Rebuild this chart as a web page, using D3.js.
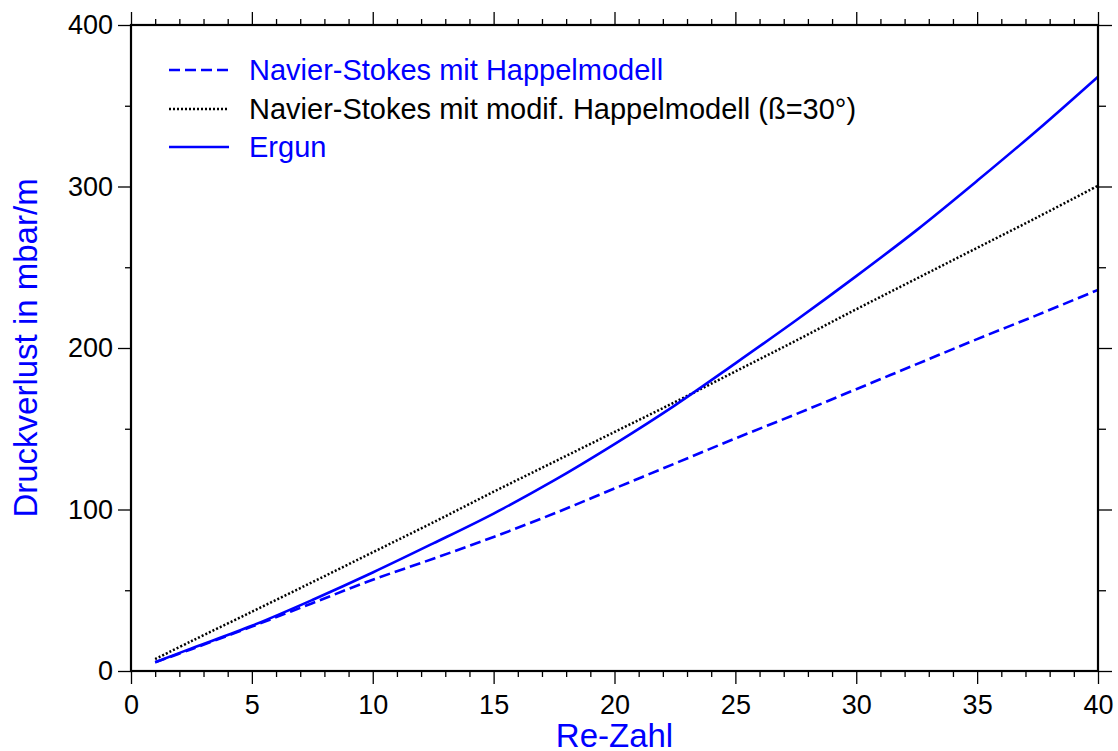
<!DOCTYPE html>
<html>
<head>
<meta charset="utf-8">
<script src="https://cdn.jsdelivr.net/npm/d3@7"></script>
<style>
  html, body { margin: 0; padding: 0; background: #fff; }
  svg { display: block; font-family: "Liberation Sans", Arial, sans-serif; }
</style>
</head>
<body>
<svg id="chart" width="1118" height="751"></svg>
<script>
// ---- data ----
const reValues  = [1, 2.5, 5, 7.5, 10, 12.5, 15, 17.5, 20, 22.5, 25, 27.5, 30, 32.5, 35, 37.5, 40];
const happel    = [5.4, 13.5, 27.5, 42, 56.5, 69.5, 83, 97.5, 113, 128.5, 144, 159, 174.5, 190, 205.5, 220.5, 236];
const modHappel = [7.4, 18.5, 36.7, 55, 73.5, 92, 111, 129.5, 148, 166.5, 185.5, 204.5, 224, 243, 262, 281, 300.5];
const ergun     = [5.4, 14, 28, 44, 61, 79, 97.5, 118, 140.5, 164.5, 190.5, 217, 244.5, 273, 303.5, 335, 368];
const xTicks = [0, 5, 10, 15, 20, 25, 30, 35, 40];
const yTicks = [0, 100, 200, 300, 400];
const legendLabels = ["Navier-Stokes mit Happelmodell", "Navier-Stokes mit modif. Happelmodell (ß=30°)", "Ergun"];
const xTitle = "Re-Zahl";
const yTitle = "Druckverlust in mbar/m";

// ---- layout ----
const W = 1118, H = 751;
const m = { left: 131, right: 20, top: 25, bottom: 80 };
const svg = d3.select("#chart");
const x = d3.scaleLinear().domain([0, 40]).range([m.left, W - m.right]);
const y = d3.scaleLinear().domain([0, 400]).range([H - m.bottom, m.top]);
const fs = 27;
const legFs = 29;

const series = [
  { vals: happel, color: "#0000ff", dash: "11,5", width: 2.6 },
  { vals: modHappel, color: "#000000", dash: "2,2", width: 2.5 },
  { vals: ergun, color: "#0000ff", dash: null, width: 2.6 }
];

// ---- curves ----
const line = d3.line().x(d => x(d[0])).y(d => y(d[1])).curve(d3.curveCatmullRom.alpha(0.5));
series.forEach(s => {
  svg.append("path")
    .datum(reValues.map((r, i) => [r, s.vals[i]]))
    .attr("fill", "none")
    .attr("stroke", s.color)
    .attr("stroke-width", s.width)
    .attr("stroke-dasharray", s.dash)
    .attr("d", line);
});

// ---- axes ----
function styleAxis(g) {
  g.select(".domain").remove();
  g.selectAll(".tick line").attr("stroke", "#000").attr("stroke-width", 1.3);
}
const minorX = d3.range(0, 41, 1).filter(v => v % 5 !== 0);
const minorY = d3.range(50, 400, 100);
const fontFam = "Liberation Sans, Arial, sans-serif";

// bottom
svg.append("g").attr("transform", `translate(0,${y(0)})`)
  .call(d3.axisBottom(x).tickValues(xTicks).tickSize(13).tickPadding(11).tickFormat(d3.format("d")))
  .call(styleAxis)
  .call(g => g.selectAll("text").attr("font-size", fs).attr("fill", "#000").attr("font-family", fontFam));
svg.append("g").attr("transform", `translate(0,${y(0)})`)
  .call(d3.axisBottom(x).tickValues(minorX).tickSize(6).tickFormat(""))
  .call(styleAxis);
// top
svg.append("g").attr("transform", `translate(0,${y(400)})`)
  .call(d3.axisTop(x).tickValues(xTicks).tickSize(13).tickFormat(""))
  .call(styleAxis);
svg.append("g").attr("transform", `translate(0,${y(400)})`)
  .call(d3.axisTop(x).tickValues(minorX).tickSize(6).tickFormat(""))
  .call(styleAxis);
// left
svg.append("g").attr("transform", `translate(${x(0)},0)`)
  .call(d3.axisLeft(y).tickValues(yTicks).tickSize(13).tickPadding(5).tickFormat(d3.format("d")))
  .call(styleAxis)
  .call(g => g.selectAll("text").attr("font-size", fs).attr("fill", "#000").attr("font-family", fontFam));
svg.append("g").attr("transform", `translate(${x(0)},0)`)
  .call(d3.axisLeft(y).tickValues(minorY).tickSize(6).tickFormat(""))
  .call(styleAxis);
// right
svg.append("g").attr("transform", `translate(${x(40)},0)`)
  .call(d3.axisRight(y).tickValues(yTicks).tickSize(14).tickFormat(""))
  .call(styleAxis);
svg.append("g").attr("transform", `translate(${x(40)},0)`)
  .call(d3.axisRight(y).tickValues(minorY).tickSize(8).tickFormat(""))
  .call(styleAxis);

// frame
svg.append("rect")
  .attr("x", x(0)).attr("y", y(400))
  .attr("width", x(40) - x(0)).attr("height", y(0) - y(400))
  .attr("fill", "none").attr("stroke", "#000").attr("stroke-width", 2.2);

// ---- titles ----
svg.append("text")
  .attr("x", (x(0) + x(40)) / 2).attr("y", 747)
  .attr("text-anchor", "middle").attr("font-size", 33).attr("fill", "#0000ff")
  .text(xTitle);
svg.append("text")
  .attr("transform", `translate(37,${(y(0) + y(400)) / 2}) rotate(-90)`)
  .attr("text-anchor", "middle").attr("font-size", 33).attr("fill", "#0000ff")
  .text(yTitle);

// ---- legend ----
const legY = [70, 109, 147];
series.forEach((s, i) => {
  svg.append("line")
    .attr("x1", 169).attr("x2", 229).attr("y1", legY[i]).attr("y2", legY[i])
    .attr("stroke", s.color).attr("stroke-width", s.width)
    .attr("stroke-dasharray", s.dash);
  svg.append("text")
    .attr("x", 249).attr("y", legY[i]).attr("dy", "0.35em")
    .attr("font-size", legFs).attr("fill", s.color)
    .text(legendLabels[i]);
});
</script>
</body>
</html>
